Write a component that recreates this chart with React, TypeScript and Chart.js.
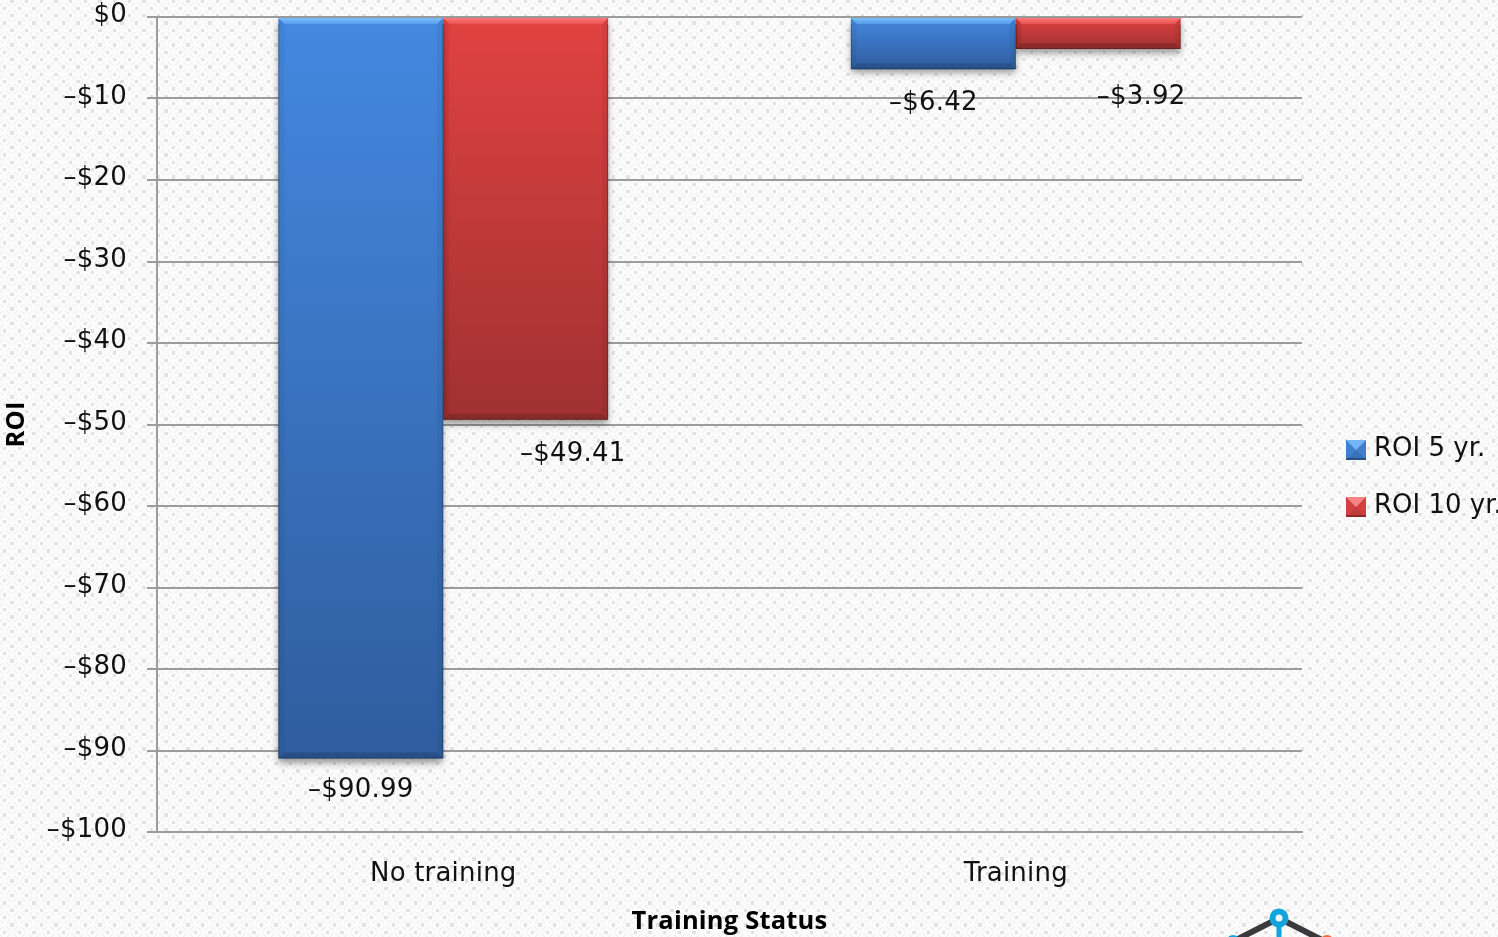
import React, { useEffect, useRef } from "react";
import { Chart, registerables } from "chart.js";

Chart.register(...registerables);

const categories = ["No training", "Training"];
const roi5 = [-90.99, -6.42];
const roi10 = [-49.41, -3.92];
const seriesNames = ["ROI 5 yr.", "ROI 10 yr."];
const yMin = -100;
const yMax = 0;
const yStep = 10;

const TEXT_FAMILY = "'DejaVu Sans'";
const TEXT_SIZE = 26;
const LABEL_FONT = `${TEXT_SIZE}px ${TEXT_FAMILY}`;
const BOLD_FAMILY = "'Open Sans'";

const money = (v: number, digits: number) =>
  (v < 0 ? "\u2013$" : "$") + Math.abs(v).toFixed(digits);

// Manual placement of the value labels, relative to each bar's lower middle.
const labelShift = [
  [[0, 32], [0, 34]],
  [[47, 35], [43, 48]],
];

const palettes = [
  {
    top: "#4488e0",
    bottom: "#2f5d9e",
    sheen: ["rgba(125,195,255,0.95)", "rgba(95,165,240,0.75)"],
    swatch: ["#74b4f4", "#3f7fcb", "#3a72b8", "#27507f"],
  },
  {
    top: "#e24242",
    bottom: "#a03131",
    sheen: ["rgba(255,125,125,0.95)", "rgba(240,90,90,0.75)"],
    swatch: ["#f58484", "#d44040", "#c23a3a", "#8c2828"],
  },
];

function makeBackdrop(ctx: CanvasRenderingContext2D) {
  // A 44px tile scaled down by three gives a period of 14.67px.
  const tile = document.createElement("canvas");
  tile.width = 44;
  tile.height = 44;
  const t = tile.getContext("2d")!;
  t.fillStyle = "#fbfbfb";
  t.fillRect(0, 0, 44, 44);
  t.fillStyle = "#e2e2e2";
  t.fillRect(-5, -5, 10, 10);
  t.fillRect(39, -5, 10, 10);
  t.fillRect(-5, 39, 10, 10);
  t.fillRect(39, 39, 10, 10);
  t.fillRect(17, 17, 10, 10);
  t.strokeStyle = "#ececec";
  t.lineWidth = 2.5;
  t.beginPath();
  t.moveTo(6, 28); t.lineTo(16, 38);
  t.moveTo(28, 6); t.lineTo(38, 16);
  t.moveTo(16, 6); t.lineTo(6, 16);
  t.moveTo(38, 28); t.lineTo(28, 38);
  t.stroke();
  const pattern = ctx.createPattern(tile, "repeat")!;
  pattern.setTransform(new DOMMatrix().translate(12, 1).scale(1 / 3));
  return pattern;
}

function facet(ctx: CanvasRenderingContext2D, pts: number[][], fill: string | CanvasGradient) {
  ctx.fillStyle = fill;
  ctx.beginPath();
  ctx.moveTo(pts[0][0], pts[0][1]);
  pts.slice(1).forEach((p) => ctx.lineTo(p[0], p[1]));
  ctx.closePath();
  ctx.fill();
}

function bevelBar(ctx: CanvasRenderingContext2D, x: number, y: number, w: number, h: number, sheenStops: string[]) {
  const s = 6;
  const r = x + w;
  const b = y + h;
  const sheen = ctx.createLinearGradient(0, y, 0, y + s);
  sheen.addColorStop(0, sheenStops[0]);
  sheen.addColorStop(1, sheenStops[1]);
  facet(ctx, [[x, y], [x + s, y + s], [x + s, b - s], [x, b]], "rgba(0,0,0,0.04)");
  facet(ctx, [[r, y], [r - s, y + s], [r - s, b - s], [r, b]], "rgba(0,0,0,0.05)");
  facet(ctx, [[x, b], [x + s, b - s], [r - s, b - s], [r, b]], "rgba(0,0,0,0.14)");
  facet(ctx, [[x, y], [r, y], [r - s, y + s], [x + s, y + s]], sheen);
  ctx.strokeStyle = "rgba(0,0,0,0.25)";
  ctx.lineWidth = 1;
  ctx.beginPath();
  ctx.moveTo(x + 0.5, y + s);
  ctx.lineTo(x + 0.5, b - 0.5);
  ctx.lineTo(r - 0.5, b - 0.5);
  ctx.lineTo(r - 0.5, y + s);
  ctx.stroke();
}

function swatch(ctx: CanvasRenderingContext2D, x: number, y: number, size: number, c: string[]) {
  const m = size / 2;
  const r = x + size;
  const b = y + size;
  ctx.fillStyle = c[1];
  ctx.fillRect(x, y, size, size);
  facet(ctx, [[x, b], [x + m, y + m], [r, b]], c[2]);
  facet(ctx, [[x, y], [r, y], [x + m, y + m]], c[0]);
  ctx.fillStyle = c[3];
  ctx.fillRect(x, b - 2, size, 2);
}

const backdropPlugin = {
  id: "backdrop",
  beforeDraw(chart: Chart) {
    const { ctx, width, height } = chart;
    ctx.save();
    ctx.fillStyle = makeBackdrop(ctx);
    ctx.fillRect(0, 0, width, height);
    ctx.restore();
    (ctx as any).letterSpacing = "0.2px";
  },
  beforeDatasetDraw(chart: Chart) {
    const { ctx } = chart;
    ctx.save();
    ctx.shadowColor = "rgba(0,0,0,0.4)";
    ctx.shadowBlur = 7;
    ctx.shadowOffsetY = 4;
  },
  afterDatasetDraw(chart: Chart) {
    chart.ctx.restore();
  },
  afterDatasetsDraw(chart: Chart) {
    const { ctx } = chart;
    ctx.save();
    chart.data.datasets.forEach((_, di) => {
      chart.getDatasetMeta(di).data.forEach((el: any) => {
        bevelBar(ctx, el.x - el.width / 2, el.base, el.width, el.y - el.base, palettes[di].sheen);
      });
    });
    ctx.restore();
  },
  afterDraw(chart: Chart) {
    const { ctx } = chart;
    ctx.save();

    // Value labels
    ctx.font = LABEL_FONT;
    ctx.fillStyle = "#111111";
    ctx.textAlign = "center";
    ctx.textBaseline = "middle";
    chart.data.datasets.forEach((ds, di) => {
      chart.getDatasetMeta(di).data.forEach((el: any, i: number) => {
        const [dx, dy] = labelShift[di][i];
        ctx.fillText(money(ds.data[i] as number, 2), el.x + dx, el.y + dy);
      });
    });

    // Legend
    ctx.textAlign = "left";
    (ctx as any).letterSpacing = "0px";
    seriesNames.forEach((name, i) => {
      const cy = 448 + i * 57;
      swatch(ctx, 1346, cy - 8, 20, palettes[i].swatch);
      ctx.fillStyle = "#111111";
      ctx.fillText(name, 1374, cy + 1);
    });

    // Corner of the logo along the lower edge
    ctx.lineCap = "round";
    ctx.strokeStyle = "#3a3a3c";
    ctx.lineWidth = 6;
    ctx.beginPath();
    ctx.moveTo(1236, 940);
    ctx.lineTo(1279, 918);
    ctx.lineTo(1322, 940);
    ctx.stroke();
    ctx.strokeStyle = "#12a5dc";
    ctx.lineWidth = 5;
    ctx.beginPath();
    ctx.moveTo(1279, 925);
    ctx.lineTo(1279, 940);
    ctx.stroke();
    ctx.fillStyle = "#12a5dc";
    ctx.beginPath();
    ctx.arc(1233, 942, 7, 0, Math.PI * 2);
    ctx.fill();
    ctx.fillStyle = "#f0693a";
    ctx.beginPath();
    ctx.arc(1327, 942, 7, 0, Math.PI * 2);
    ctx.fill();
    ctx.strokeStyle = "#12a5dc";
    ctx.lineWidth = 6;
    ctx.fillStyle = "#f5f5f5";
    ctx.beginPath();
    ctx.arc(1279, 918, 6.5, 0, Math.PI * 2);
    ctx.fill();
    ctx.stroke();
    ctx.restore();
  },
};

const barFill = (series: number) => (c: any) => {
  const { chart, raw } = c;
  const scale = chart.scales?.y;
  if (!scale || typeof raw !== "number") return palettes[series].top;
  const y0 = scale.getPixelForValue(0);
  const y1 = scale.getPixelForValue(raw);
  if (!Number.isFinite(y0) || !Number.isFinite(y1)) return palettes[series].top;
  const grad = chart.ctx.createLinearGradient(0, y0, 0, y1);
  grad.addColorStop(0, palettes[series].top);
  grad.addColorStop(1, palettes[series].bottom);
  return grad;
};

export default function App() {
  const ref = useRef<HTMLCanvasElement>(null);

  useEffect(() => {
    document.body.style.margin = "0";
    document.body.style.overflow = "hidden";
    const chart = new Chart(ref.current!, {
      type: "bar",
      data: {
        labels: categories,
        datasets: [
          { label: seriesNames[0], data: roi5, backgroundColor: barFill(0) },
          { label: seriesNames[1], data: roi10, backgroundColor: barFill(1) },
        ],
      },
      options: {
        animation: false,
        responsive: false,
        layout: { padding: { left: 0, top: 17, right: 196, bottom: 0 } },
        datasets: { bar: { categoryPercentage: 0.576, barPercentage: 1 } },
        plugins: { legend: { display: false }, tooltip: { enabled: false } },
        scales: {
          x: {
            grid: { display: false, drawTicks: false },
            border: { color: "#9c9c9c", width: 2 },
            ticks: { color: "#111111", font: { family: TEXT_FAMILY, size: TEXT_SIZE }, padding: 27, maxRotation: 0 },
            title: {
              display: true,
              text: "Training Status",
              color: "#000000",
              font: { family: BOLD_FAMILY, size: 25.5, weight: "bold" },
              padding: { top: -4, bottom: 0 },
            },
            afterFit(scale: any) {
              scale.height = 105;
            },
          },
          y: {
            min: yMin,
            max: yMax,
            grid: { color: "#9c9c9c", lineWidth: 2, tickLength: 10 },
            border: { color: "#9c9c9c", width: 2 },
            ticks: {
              stepSize: yStep,
              color: "#111111",
              font: { family: TEXT_FAMILY, size: TEXT_SIZE },
              padding: 20,
              labelOffset: -1.5,
              callback: (v: any) => money(Number(v), 0),
            },
            title: {
              display: true,
              text: "ROI",
              color: "#000000",
              font: { family: BOLD_FAMILY, size: 25.5, weight: "bold" },
              padding: { top: 1, bottom: 0 },
            },
            afterFit(scale: any) {
              scale.width = 157;
              scale.paddingTop = 0;
              scale.paddingBottom = 0;
            },
          },
        },
      },
      plugins: [backdropPlugin],
    } as any);
    return () => chart.destroy();
  }, []);

  return <canvas ref={ref} width={1498} height={937} style={{ display: "block" }} />;
}
